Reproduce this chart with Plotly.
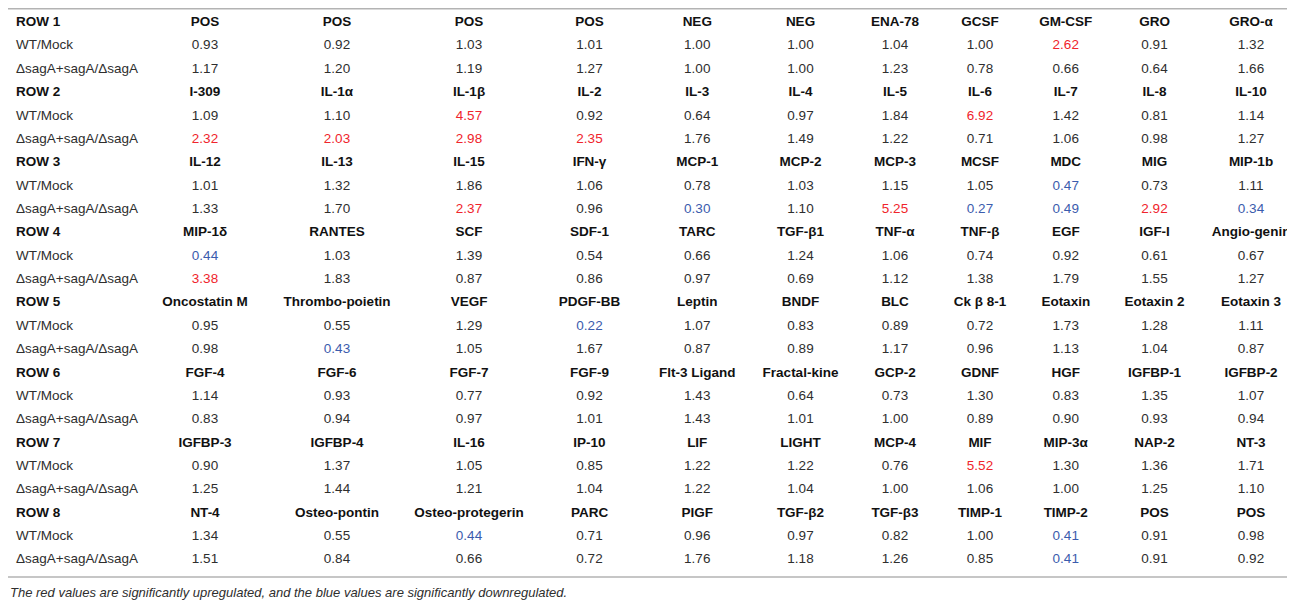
import plotly.graph_objects as go

# --- data (block = one "ROW n" group of 11 cytokines) ---
BLOCK_TITLES = ["ROW 1", "ROW 2", "ROW 3", "ROW 4", "ROW 5", "ROW 6", "ROW 7", "ROW 8"]
SERIES_LABELS = ["WT/Mock", "ΔsagA+sagA/ΔsagA"]

NAMES = [
    ["POS", "POS", "POS", "POS", "NEG", "NEG", "ENA-78", "GCSF", "GM-CSF", "GRO", "GRO-α"],
    ["I-309", "IL-1α", "IL-1β", "IL-2", "IL-3", "IL-4", "IL-5", "IL-6", "IL-7", "IL-8", "IL-10"],
    ["IL-12", "IL-13", "IL-15", "IFN-γ", "MCP-1", "MCP-2", "MCP-3", "MCSF", "MDC", "MIG", "MIP-1b"],
    ["MIP-1δ", "RANTES", "SCF", "SDF-1", "TARC", "TGF-β1", "TNF-α", "TNF-β", "EGF", "IGF-I", "Angio-genin"],
    ["Oncostatin M", "Thrombo-poietin", "VEGF", "PDGF-BB", "Leptin", "BNDF", "BLC", "Ck β 8-1",
     "Eotaxin", "Eotaxin 2", "Eotaxin 3"],
    ["FGF-4", "FGF-6", "FGF-7", "FGF-9", "Flt-3 Ligand", "Fractal-kine", "GCP-2", "GDNF", "HGF",
     "IGFBP-1", "IGFBP-2"],
    ["IGFBP-3", "IGFBP-4", "IL-16", "IP-10", "LIF", "LIGHT", "MCP-4", "MIF", "MIP-3α", "NAP-2", "NT-3"],
    ["NT-4", "Osteo-pontin", "Osteo-protegerin", "PARC", "PIGF", "TGF-β2", "TGF-β3", "TIMP-1", "TIMP-2",
     "POS", "POS"],
]

WT_MOCK = [
    [0.93, 0.92, 1.03, 1.01, 1.00, 1.00, 1.04, 1.00, 2.62, 0.91, 1.32],
    [1.09, 1.10, 4.57, 0.92, 0.64, 0.97, 1.84, 6.92, 1.42, 0.81, 1.14],
    [1.01, 1.32, 1.86, 1.06, 0.78, 1.03, 1.15, 1.05, 0.47, 0.73, 1.11],
    [0.44, 1.03, 1.39, 0.54, 0.66, 1.24, 1.06, 0.74, 0.92, 0.61, 0.67],
    [0.95, 0.55, 1.29, 0.22, 1.07, 0.83, 0.89, 0.72, 1.73, 1.28, 1.11],
    [1.14, 0.93, 0.77, 0.92, 1.43, 0.64, 0.73, 1.30, 0.83, 1.35, 1.07],
    [0.90, 1.37, 1.05, 0.85, 1.22, 1.22, 0.76, 5.52, 1.30, 1.36, 1.71],
    [1.34, 0.55, 0.44, 0.71, 0.96, 0.97, 0.82, 1.00, 0.41, 0.91, 0.98],
]

DELTA_SAGA = [
    [1.17, 1.20, 1.19, 1.27, 1.00, 1.00, 1.23, 0.78, 0.66, 0.64, 1.66],
    [2.32, 2.03, 2.98, 2.35, 1.76, 1.49, 1.22, 0.71, 1.06, 0.98, 1.27],
    [1.33, 1.70, 2.37, 0.96, 0.30, 1.10, 5.25, 0.27, 0.49, 2.92, 0.34],
    [3.38, 1.83, 0.87, 0.86, 0.97, 0.69, 1.12, 1.38, 1.79, 1.55, 1.27],
    [0.98, 0.43, 1.05, 1.67, 0.87, 0.89, 1.17, 0.96, 1.13, 1.04, 0.87],
    [0.83, 0.94, 0.97, 1.01, 1.43, 1.01, 1.00, 0.89, 0.90, 0.93, 0.94],
    [1.25, 1.44, 1.21, 1.04, 1.22, 1.04, 1.00, 1.06, 1.00, 1.25, 1.10],
    [1.51, 0.84, 0.66, 0.72, 1.76, 1.18, 1.26, 0.85, 0.41, 0.91, 0.92],
]

# significance: "u" = upregulated (red), "d" = downregulated (blue), "" = none
WT_SIG = [
    ["", "", "", "", "", "", "", "", "u", "", ""],
    ["", "", "u", "", "", "", "", "u", "", "", ""],
    ["", "", "", "", "", "", "", "", "d", "", ""],
    ["d", "", "", "", "", "", "", "", "", "", ""],
    ["", "", "", "d", "", "", "", "", "", "", ""],
    ["", "", "", "", "", "", "", "", "", "", ""],
    ["", "", "", "", "", "", "", "u", "", "", ""],
    ["", "", "d", "", "", "", "", "", "d", "", ""],
]
DELTA_SIG = [
    ["", "", "", "", "", "", "", "", "", "", ""],
    ["u", "u", "u", "u", "", "", "", "", "", "", ""],
    ["", "", "u", "", "d", "", "u", "d", "d", "u", "d"],
    ["u", "", "", "", "", "", "", "", "", "", ""],
    ["", "d", "", "", "", "", "", "", "", "", ""],
    ["", "", "", "", "", "", "", "", "", "", ""],
    ["", "", "", "", "", "", "", "", "", "", ""],
    ["", "", "", "", "", "", "", "", "d", "", ""],
]

CAPTION = "The red values are significantly upregulated, and the blue values are significantly downregulated."

# --- style ---
FONT = "Liberation Sans, Arial, Helvetica, sans-serif"
TEXT_GREY = "#2e2e2e"
HEAD_BLACK = "#111111"
SIG_COLOR = {"u": "#f0242c", "d": "#3b5cad", "": TEXT_GREY}
RULE = "#b3b3b3"
W, H = 1295, 601
ROW_H = 23.36
TABLE_TOP = 0  # px
COL_W = [132, 130, 134, 130, 111, 104.5, 102, 87, 83, 88.5, 89, 104]
align = ["left"] + ["center"] * 11

fig = go.Figure()

# one small table per block: bold name row as header, two ratio rows as cells
for b, title in enumerate(BLOCK_TITLES):
    wt_txt = [f"{v:.2f}" for v in WT_MOCK[b]]
    dl_txt = [f"{v:.2f}" for v in DELTA_SAGA[b]]
    cols_text = [[SERIES_LABELS[0], SERIES_LABELS[1]]] + [[w, d] for w, d in zip(wt_txt, dl_txt)]
    cols_color = [[TEXT_GREY, TEXT_GREY]] + [
        [SIG_COLOR[w], SIG_COLOR[d]] for w, d in zip(WT_SIG[b], DELTA_SIG[b])
    ]
    top = TABLE_TOP + b * 3 * ROW_H
    bottom = top + 3 * ROW_H + 1
    fig.add_trace(go.Table(
        domain=dict(x=[0, 1], y=[1 - bottom / H, 1 - top / H]),
        columnwidth=COL_W,
        header=dict(
            values=[title] + NAMES[b],
            align=align,
            height=ROW_H,
            fill=dict(color="white"),
            line=dict(color="white", width=0),
            font=dict(family=FONT, size=13.5, color=HEAD_BLACK, weight="bold"),
        ),
        cells=dict(
            values=cols_text,
            align=align,
            height=ROW_H,
            fill=dict(color="white"),
            line=dict(color="white", width=0),
            font=dict(family=FONT, size=13.5, color=cols_color),
        ),
    ))

# top and bottom rules of the table
for py in (0.75, 569):
    fig.add_shape(type="line", xref="paper", yref="paper",
                  x0=0, x1=1, y0=1 - py / H, y1=1 - py / H,
                  line=dict(color=RULE, width=1.5))

fig.add_annotation(
    text=f"<i>{CAPTION}</i>", xref="paper", yref="paper",
    x=0, y=1 - 584 / H, xanchor="left", yanchor="middle",
    showarrow=False, font=dict(family=FONT, size=13, color=TEXT_GREY),
)

fig.update_layout(
    width=W, height=H,
    margin=dict(l=0, r=0, t=0, b=0),
    paper_bgcolor="white",
    plot_bgcolor="white",
)

fig.write_html("out.html")
